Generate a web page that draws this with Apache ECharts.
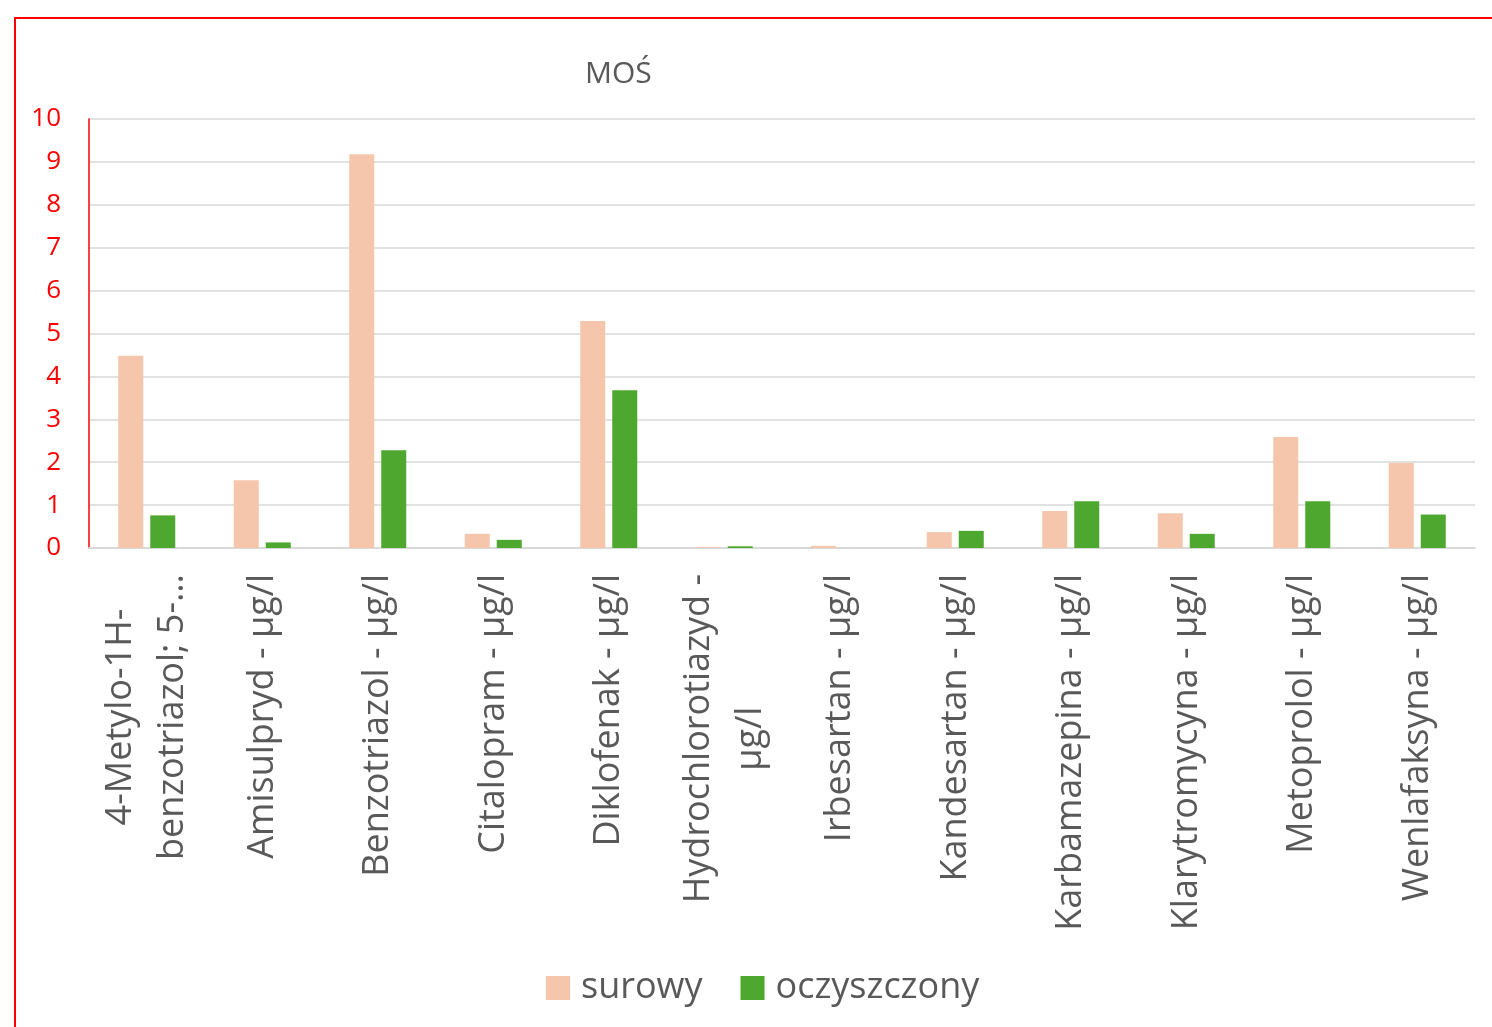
<!DOCTYPE html>
<html>
<head>
<meta charset="utf-8">
<title>MOŚ</title>
<script src="https://cdn.jsdelivr.net/npm/echarts@6/dist/echarts.min.js"></script>
<style>
  html, body { margin: 0; padding: 0; background: #fff; }
  #main { width: 1492px; height: 1027px; }
</style>
</head>
<body>
<div id="main"></div>
<script>
// kategorie (oś X)
var kategorie = [
  '4-Metylo-1H-\nbenzotriazol; 5-…',
  'Amisulpryd - µg/l',
  'Benzotriazol - µg/l',
  'Citalopram - µg/l',
  'Diklofenak - µg/l',
  'Hydrochlorotiazyd -\nµg/l',
  'Irbesartan - µg/l',
  'Kandesartan - µg/l',
  'Karbamazepina - µg/l',
  'Klarytromycyna - µg/l',
  'Metoprolol - µg/l',
  'Wenlafaksyna - µg/l'
];
// wartości serii
var surowy = [4.48, 1.58, 9.18, 0.33, 5.29, 0.02, 0.05, 0.37, 0.86, 0.81, 2.59, 1.98];
var oczyszczony = [0.76, 0.13, 2.28, 0.19, 3.68, 0.04, 0, 0.4, 1.09, 0.33, 1.09, 0.78];
var nazwySerii = ['surowy', 'oczyszczony'];
var kolory = ['#F5C6AB', '#4EA72E'];

var czcionka = '"Open Sans", Roboto, sans-serif';

var myChart = echarts.init(document.getElementById('main'));

var option = {
  backgroundColor: '#fff',
  textStyle: { fontFamily: czcionka },
  // czerwona ramka
  graphic: [{
    type: 'rect',
    shape: { x: 15, y: 18, width: 1600, height: 1100 },
    style: { fill: 'none', stroke: '#ff0000', lineWidth: 2 },
    silent: true
  }],
  title: {
    text: 'MOŚ',
    left: 580,
    top: 54,
    textStyle: { color: '#595959', fontSize: 30, fontWeight: 'normal', fontFamily: czcionka }
  },
  legend: {
    data: nazwySerii,
    left: 546,
    top: 970,
    padding: 0,
    icon: 'rect',
    itemWidth: 24,
    itemHeight: 24,
    itemGap: 38,
    textStyle: { color: '#595959', fontSize: 36, fontFamily: czcionka, padding: [0, 0, 0, 6] }
  },
  grid: {
    left: 89,
    right: 17,
    top: 119,
    bottom: 479,
    containLabel: false
  },
  xAxis: {
    type: 'category',
    data: kategorie,
    axisLine: { lineStyle: { color: '#d9d9d9', width: 2 } },
    axisTick: { show: false },
    axisLabel: {
      rotate: 90,
      interval: 0,
      margin: 26,
      // każda linia wyśrodkowana
      formatter: function (value) {
        return value.split('\n').map(function (l) { return '{c|' + l + '}'; }).join('\n');
      },
      rich: {
        c: {
          align: 'center',
          color: '#595959',
          fontSize: 36,
          lineHeight: 52,
          fontFamily: czcionka
        }
      }
    }
  },
  yAxis: {
    type: 'value',
    min: 0,
    max: 10,
    interval: 1,
    axisLine: { show: true, lineStyle: { color: '#ff0000', width: 1.5 } },
    axisTick: { show: false },
    axisLabel: { color: '#ff0000', fontSize: 26, margin: 28, fontFamily: czcionka },
    splitLine: { lineStyle: { color: '#d9d9d9', width: 1.5 } }
  },
  series: nazwySerii.map(function (nazwa, i) {
    return {
      name: nazwa,
      type: 'bar',
      data: i === 0 ? surowy : oczyszczony,
      barWidth: 25,
      barGap: '28%',
      itemStyle: { color: kolory[i] }
    };
  })
};

myChart.setOption(option);
</script>
</body>
</html>
